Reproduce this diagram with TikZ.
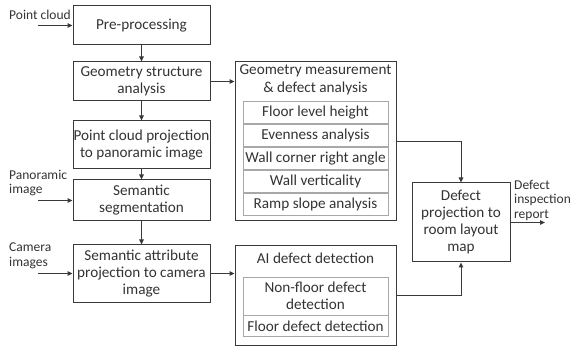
\documentclass[tikz,border=0pt]{standalone}
\usepackage{fontspec}
\setmainfont{Carlito}
\usepackage{tikz}
\usetikzlibrary{arrows.meta}
\usetikzlibrary{positioning}
\definecolor{linegray}{HTML}{3A3A3A}
\definecolor{textgray}{HTML}{333333}
\definecolor{innergray}{HTML}{A8A8A8}

\begin{document}
\begin{tikzpicture}[x=1pt,y=-1pt]
    \newcommand{\rowh}[0]{22.4pt}
    \tikzstyle{dedge} = [line width=1pt,-{Triangle[length=5pt,width=4.5pt]},draw=linegray]
    \tikzstyle{stepbox}=[
      draw=linegray,
      line width=1pt,
      text=textgray,
      align=center,
      inner sep=0pt,
      font=\fontsize{15.2}{17}\selectfont,
      minimum width=137pt,
    ]
    \tikzstyle{groupbox}=[
      stepbox,
      minimum width=161pt,
    ]
    \tikzstyle{item}=[
      stepbox,
      draw=innergray,
      line width=0.7pt,
      minimum width=145pt,
    ]
    \tikzstyle{sidelabel}=[
      anchor=west,
      align=left,
      inner sep=0pt,
      text=textgray,
      font=\fontsize{13.5}{14.5}\selectfont,
    ]

    \useasboundingbox (0,0) rectangle (570,347);

    % pipeline column
    \node[stepbox,minimum height=39pt] (pre) at (141.5,25.5) {Pre-processing};
    \node[stepbox,minimum height=39pt] (structure) at (141.5,81.5) {Geometry structure\\analysis};
    \node[stepbox,minimum height=48pt] (projection) at (141.5,145) {Point cloud projection\\to panoramic image};
    \node[stepbox,minimum height=41pt] (segmentation) at (141.5,200.5) {Semantic\\segmentation};
    \node[stepbox,minimum height=57pt] (attribute) at (141.5,273.5) {Semantic attribute\\projection to camera\\image};

    % geometry measurement group
    \node[groupbox,minimum height=159pt] (measurement) at (315.5,141.5) {};
    \node[text=textgray,align=center,font=\fontsize{15.2}{18}\selectfont,anchor=north,inner sep=0pt]
      (measurement title) at ([yshift=-3pt]measurement.north) {Geometry measurement\\\& defect analysis};
    \node[item,minimum height=\rowh] (floor level) at (315.5,112.2) {Floor level height};
    \node[item,minimum height=\rowh,below=0pt of floor level] (evenness) {Evenness analysis};
    \node[item,minimum height=\rowh,below=0pt of evenness] (corner) {Wall corner right angle};
    \node[item,minimum height=\rowh,below=0pt of corner] (verticality) {Wall verticality};
    \node[item,minimum height=\rowh,below=0pt of verticality] (ramp) {Ramp slope analysis};

    % AI detection group
    \node[groupbox,minimum height=99pt] (ai) at (315.5,295.5) {};
    \node[text=textgray,font=\fontsize{15.2}{17}\selectfont,anchor=north,inner sep=0pt]
      (ai title) at ([yshift=-7pt]ai.north) {AI defect detection};
    \node[item,minimum height=38pt] (nonfloor) at (315.5,296) {Non-floor defect\\detection};
    \node[item,minimum height=21pt,below=0pt of nonfloor] (floor defect) {Floor defect detection};

    % output
    \node[stepbox,minimum width=98pt,minimum height=79pt] (layout) at (461,222.5) {Defect\\projection to\\room layout\\map};

    % inputs and outputs
    \node[sidelabel] (cloud label) at (9,15) {Point cloud};
    \node[sidelabel] (pano label) at (9,183) {Panoramic\\image};
    \node[sidelabel] (camera label) at (9,256) {Camera\\images};
    \node[sidelabel] (report label) at (514,200) {Defect\\inspection\\report};
    \coordinate (cloud in) at (38,25.5);
    \coordinate (pano in) at (38,200.5);
    \coordinate (camera in) at (38,273.5);
    \coordinate (report out) at (545,222.5);

    \draw[dedge] (cloud in)--(pre);
    \draw[dedge] (pano in)--(segmentation);
    \draw[dedge] (camera in)--(attribute);
    \draw[dedge] (pre)--(structure);
    \draw[dedge] (structure)--(projection);
    \draw[dedge] (projection)--(segmentation);
    \draw[dedge] (segmentation)--(attribute);
    \draw[dedge] (structure)--(measurement.west |- structure);
    \draw[dedge] (attribute)--(ai.west |- attribute);
    \draw[dedge] (measurement.east)-|(layout.north);
    \draw[dedge] (ai.east)-|(layout.south);
    \draw[dedge] (layout)--(report out);
  \end{tikzpicture}
\end{document}
